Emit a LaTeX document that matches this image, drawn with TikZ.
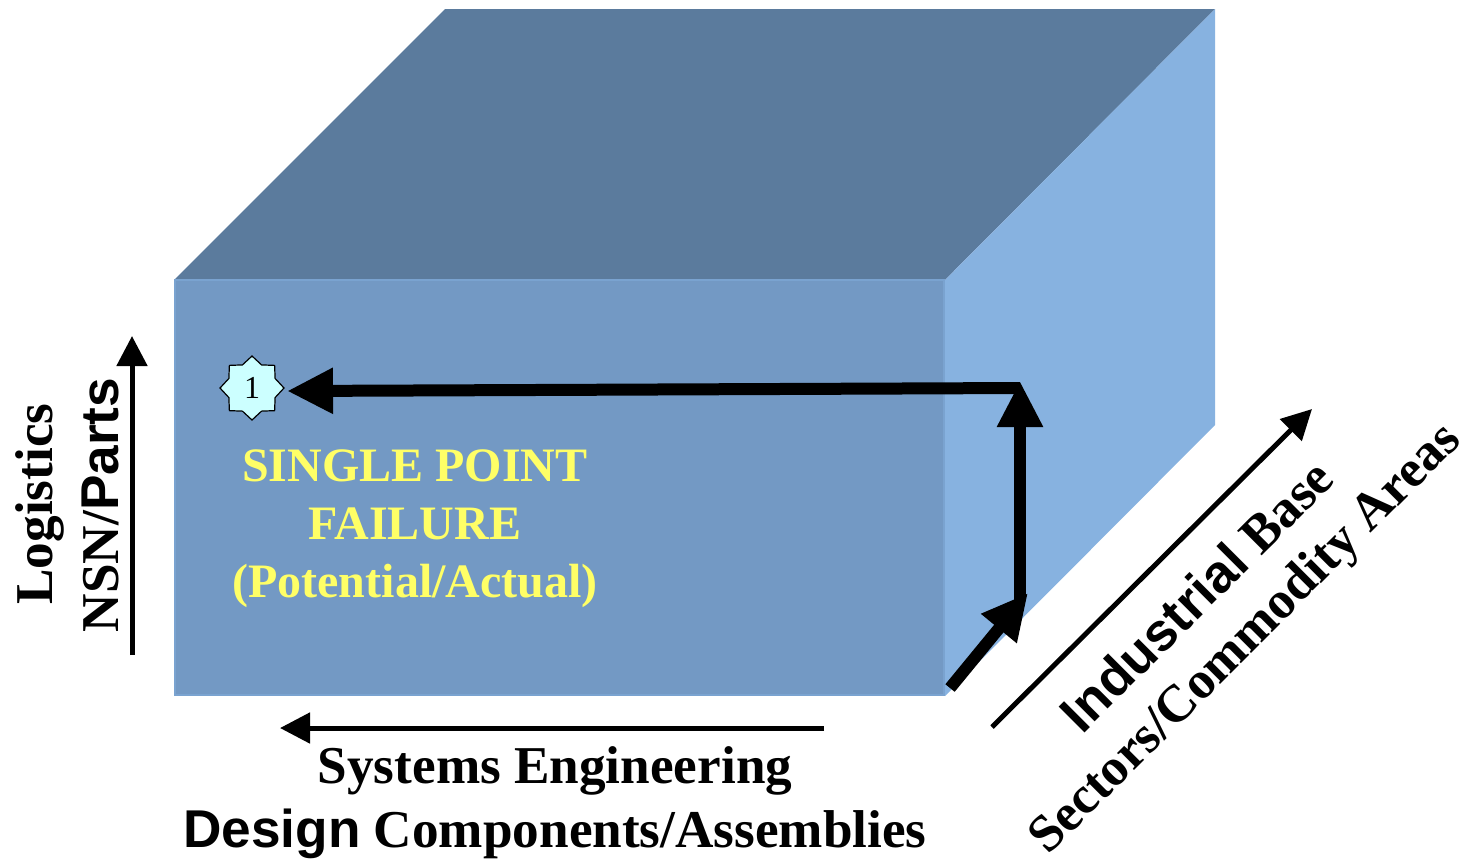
\documentclass[tikz,border=0pt]{standalone}
\usepackage{xcolor}
\usepackage{fontspec}
\setmainfont{Liberation Serif}
\newfontfamily\arialfont{Liberation Sans}
\usetikzlibrary{shapes.geometric, arrows.meta, positioning}
\definecolor{boxfront}{HTML}{7399C4}
\definecolor{boxtop}{HTML}{5B7B9D}
\definecolor{boxside}{HTML}{87B2E0}
\definecolor{boxedge}{HTML}{7AA3D0}
\definecolor{starfill}{HTML}{CCFFFF}
\definecolor{failtext}{HTML}{FFFF66}
\begin{document}
\begin{tikzpicture}[
    x=0.5pt, y=-0.5pt,
    thickline/.style={line width=6pt, -{Triangle[length=23pt, width=21.5pt]}},
    thinline/.style={line width=2.5pt, -{Triangle[length=15pt, width=15pt]}},
    axislabel/.style={font=\fontsize{26.6}{28}\selectfont\bfseries, inner sep=0pt},
    faillabel/.style={font=\fontsize{24}{29}\selectfont\bfseries, text=failtext, align=center, inner sep=0pt},
]
    \useasboundingbox (0,0) rectangle (1470,859);
    % the block
    \fill[boxtop] (174,280) -- (445,9) -- (1215,9) -- (945,280) -- cycle;
    \fill[boxside] (945,280) -- (1215,9) -- (1215,425) -- (945,696) -- cycle;
    \draw[boxedge, line width=1pt, fill=boxfront] (175,280) rectangle (944,695);

    \node[star, star points=8, star point ratio=1.28, draw, line width=0.6pt, fill=starfill, minimum size=32pt, inner sep=0pt, font=\fontsize{16}{16}\selectfont] (star) at (252,388) {1};
    \node[faillabel] (fail) at (415,529) {SINGLE POINT\\FAILURE\\(Potential/Actual)};

    % path to the failure
    \coordinate (start) at (950,688);
    \coordinate (bend) at (1028,593);
    \coordinate (low) at (1020,600);
    \coordinate (high) at (1020,381);
    \coordinate (corner) at (1020,388);
    \coordinate (tip) at (287,391);
    \draw[thickline] (start) -- (bend);
    \draw[thickline] (low) -- (high);
    \draw[thickline] (corner) -- (tip);

    % axes
    \coordinate (upA) at (132,655);
    \coordinate (upB) at (132,336);
    \coordinate (leftA) at (824,728);
    \coordinate (leftB) at (280,728);
    \coordinate (diagA) at (992,727);
    \coordinate (diagB) at (1312,409);
    \draw[thinline] (upA) -- (upB);
    \draw[thinline] (leftA) -- (leftB);
    \draw[thinline] (diagA) -- (diagB);

    \node[axislabel, rotate=90] (logistics) at (40,504) {Logistics};
    \node[axislabel, rotate=90] (parts) at (100,505) {NSN/{\arialfont Parts}};
    \node[axislabel] (syseng) at (555,771) {Systems Engineering};
    \node[axislabel] (design) at (555,834) {{\arialfont Design} Components/Assemblies};
    \node[axislabel, rotate=45] (base) at (1196,595) {{\arialfont Industrial} Base};
    \node[axislabel, rotate=45, font=\fontsize{26.2}{28}\selectfont\bfseries] (sectors) at (1247,640) {Sectors/Commodity Areas};
\end{tikzpicture}
\end{document}
